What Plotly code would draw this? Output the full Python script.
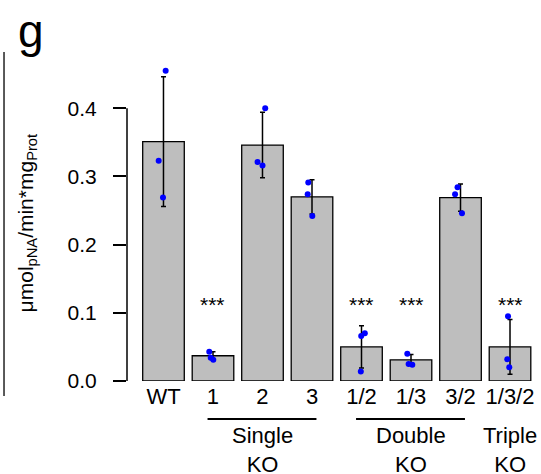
import plotly.graph_objects as go

# ---- data ----
categories = ["WT", "1", "2", "3", "1/2", "1/3", "3/2", "1/3/2"]
means = [0.351, 0.037, 0.346, 0.270, 0.050, 0.031, 0.269, 0.050]
sds = [0.095, 0.006, 0.048, 0.025, 0.031, 0.008, 0.020, 0.040]
points = [
    [0.455, 0.323, 0.269],
    [0.043, 0.034, 0.031],
    [0.400, 0.321, 0.316],
    [0.291, 0.274, 0.242],
    [0.070, 0.066, 0.014],
    [0.040, 0.025, 0.024],
    [0.284, 0.274, 0.246],
    [0.095, 0.032, 0.020],
]
jitter = [
    [0.044, -0.097, -0.010],
    [-0.075, -0.046, 0.006],
    [0.055, -0.100, 0.000],
    [-0.075, -0.087, 0.006],
    [0.067, -0.006, -0.014],
    [-0.075, -0.048, 0.026],
    [-0.060, -0.110, 0.030],
    [-0.040, -0.055, -0.015],
]
significance = ["", "***", "", "", "***", "***", "", "***"]
groups = [("Single<br>KO", 1, 3, True), ("Double<br>KO", 4, 6, True), ("Triple<br>KO", 7, 7, False)]
y_ticks = [0.0, 0.1, 0.2, 0.3, 0.4]

FONT = "Liberation Sans, Arial, sans-serif"
STAR_Y = 0.112

xpos = list(range(len(categories)))

fig = go.Figure()
fig.add_trace(go.Bar(
    x=xpos, y=means, width=0.84,
    marker=dict(color="#BEBEBE", line=dict(color="black", width=1.3)),
    error_y=dict(type="data", array=sds, visible=True, color="black", thickness=1.5, width=2.5),
    showlegend=False, hoverinfo="skip",
))

px_, py_ = [], []
for i, (vals, jit) in enumerate(zip(points, jitter)):
    for v, j in zip(vals, jit):
        px_.append(i + j)
        py_.append(v)
fig.add_trace(go.Scatter(x=px_, y=py_, mode="markers",
                         marker=dict(color="#0000FF", size=6, line=dict(width=0)),
                         showlegend=False, hoverinfo="skip"))

annotations = []
for i, s in enumerate(significance):
    if s:
        annotations.append(dict(x=i, y=STAR_Y, xref="x", yref="y", text=s, showarrow=False,
                                font=dict(family=FONT, size=21, color="black"),
                                xanchor="center", yanchor="middle"))

shapes = []
for label, a, b, line in groups:
    annotations.append(dict(x=(a + b) / 2, y=0, xref="x", yref="paper", text=label, showarrow=False,
                            font=dict(family=FONT, size=22, color="black"),
                            xanchor="center", yanchor="middle", yshift=-69))
    if line:
        shapes.append(dict(type="line", xref="x", yref="paper", x0=a - 0.11, x1=b + 0.09,
                           y0=-0.118, y1=-0.118, line=dict(color="black", width=2)))

# y axis line (R style, only spans tick range)
shapes.append(dict(type="line", xref="paper", yref="y", x0=0, x1=0, y0=y_ticks[0], y1=y_ticks[-1],
                   line=dict(color="black", width=1.5)))

# neighbouring panel border
shapes.append(dict(type="line", xref="paper", yref="paper", x0=-0.3007, x1=-0.3007, y0=1.025, y1=-0.047,
                   line=dict(color="black", width=1.3)))

# y title
annotations.append(dict(x=0, y=0.491, xref="paper", yref="paper", xshift=-100,
                        text="μmol<sub>pNA</sub>/min*mg<sub>Prot</sub>", textangle=-90,
                        showarrow=False, font=dict(family=FONT, size=21, color="black"),
                        xanchor="center", yanchor="middle"))
# panel letter
annotations.append(dict(x=0, y=1, xref="paper", yref="paper", xshift=-96, yshift=29,
                        text="g", showarrow=False, font=dict(family=FONT, size=46, color="black"),
                        xanchor="center", yanchor="middle"))

fig.update_layout(
    width=541, height=474,
    margin=dict(l=127, r=5, t=60, b=93),
    paper_bgcolor="white", plot_bgcolor="white",
    font=dict(family=FONT, size=20, color="black"),
    shapes=shapes, annotations=annotations,
    xaxis=dict(range=[-0.737, 7.525], tickmode="array", tickvals=xpos, ticktext=categories,
               showgrid=False, zeroline=False, showline=False, ticks="", tickfont=dict(size=22),
               ticklabelstandoff=0, fixedrange=True),
    yaxis=dict(range=[0, 0.4707], tickmode="array", tickvals=y_ticks,
               ticktext=[f"{v:.1f}" for v in y_ticks],
               showgrid=False, zeroline=False, showline=False, ticks="outside", ticklen=13,
               tickwidth=1.5, tickcolor="black", tickfont=dict(size=21), ticklabelstandoff=12,
               fixedrange=True),
)

fig.write_html("out.html", config={"displayModeBar": False},
               post_script="document.body.style.margin='0';document.body.style.overflow='hidden';")
